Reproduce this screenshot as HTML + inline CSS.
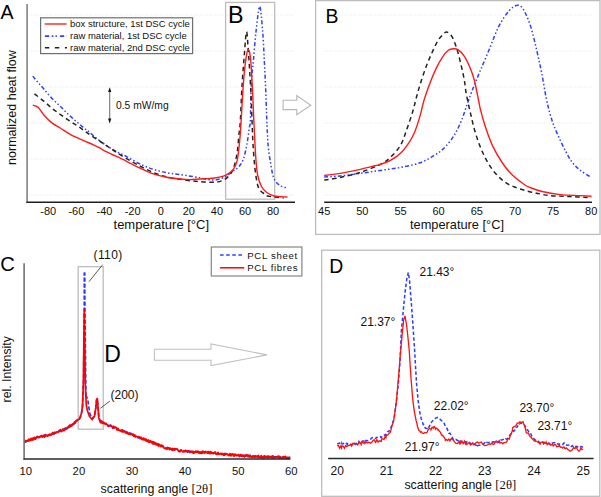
<!DOCTYPE html>
<html><head><meta charset="utf-8"><style>
html,body{margin:0;padding:0;background:#fff;width:601px;height:497px;overflow:hidden}
svg{display:block}
text{font-family:"Liberation Sans",sans-serif}
</style></head><body>
<svg width="601" height="497" viewBox="0 0 601 497"><line x1="30.0" y1="15.0" x2="295.0" y2="15.0" stroke="#ebebeb" stroke-width="1" stroke-dasharray="1.5,1,1,1.5"/>
<line x1="30.0" y1="51.0" x2="295.0" y2="51.0" stroke="#ebebeb" stroke-width="1" stroke-dasharray="1.5,1,1,1.5"/>
<line x1="30.0" y1="87.0" x2="295.0" y2="87.0" stroke="#ebebeb" stroke-width="1" stroke-dasharray="1.5,1,1,1.5"/>
<line x1="30.0" y1="123.0" x2="295.0" y2="123.0" stroke="#ebebeb" stroke-width="1" stroke-dasharray="1.5,1,1,1.5"/>
<line x1="30.0" y1="159.0" x2="295.0" y2="159.0" stroke="#ebebeb" stroke-width="1" stroke-dasharray="1.5,1,1,1.5"/>
<line x1="30.0" y1="195.0" x2="295.0" y2="195.0" stroke="#ebebeb" stroke-width="1" stroke-dasharray="1.5,1,1,1.5"/>
<rect x="225.6" y="2.4" width="49.1" height="196.8" fill="none" stroke="#bdbdbd" stroke-width="1.3"/>
<rect x="40.6" y="17.8" width="152" height="35.8" fill="#fff" stroke="#6e6e6e" stroke-width="1.2"/>
<line x1="44.7" y1="24" x2="66.6" y2="24" stroke="#ff2020" stroke-width="1.4"/>
<line x1="44.9" y1="36.1" x2="67" y2="36.1" stroke="#3040ff" stroke-width="1.6" stroke-dasharray="4.3,2.6,1.6,2.1,1.4,3"/>
<line x1="44.9" y1="47.8" x2="67" y2="47.8" stroke="#222" stroke-width="1.6" stroke-dasharray="4.4,5.6"/>
<text x="70" y="27" font-size="9.5" font-family="Liberation Sans, sans-serif" fill="#111">box structure, 1st DSC cycle</text>
<text x="70" y="38.9" font-size="9.5" font-family="Liberation Sans, sans-serif" fill="#111">raw material, 1st DSC cycle</text>
<text x="70" y="50.6" font-size="9.5" font-family="Liberation Sans, sans-serif" fill="#111">raw material, 2nd DSC cycle</text>
<path d="M32.8,76.1 C33.7,77.2 36.1,80.3 38.0,82.5 C39.9,84.7 41.8,86.6 44.1,89.3 C46.4,92.0 49.3,95.7 52.0,98.5 C54.7,101.3 57.5,103.6 60.2,106.2 C62.9,108.8 65.3,111.5 68.0,114.0 C70.7,116.5 73.6,119.2 76.3,121.5 C79.0,123.8 82.0,126.3 84.0,128.0 C86.0,129.7 86.9,130.2 88.6,131.6 C90.3,133.0 92.1,134.6 94.0,136.2 C95.9,137.8 98.1,139.5 100.1,141.0 C102.1,142.5 103.6,143.5 106.1,145.2 C108.6,146.9 111.8,149.1 115.2,151.0 C118.6,152.9 122.5,154.4 126.6,156.6 C130.7,158.8 135.6,161.9 140.0,164.0 C144.4,166.1 148.9,167.9 153.3,169.3 C157.7,170.7 162.2,171.7 166.6,172.6 C171.0,173.5 174.7,173.8 180.0,174.6 C185.3,175.4 194.0,176.7 198.2,177.4 C202.4,178.1 202.2,178.6 205.0,179.0 C207.8,179.4 211.6,180.3 214.8,180.0 C218.0,179.7 221.4,178.6 224.3,177.2 C227.2,175.8 230.0,173.2 232.4,171.5 C234.8,169.8 236.9,168.8 238.8,166.7 C240.7,164.5 242.2,162.3 243.6,158.6 C244.9,154.8 245.9,149.3 246.9,144.2 C247.9,139.1 248.7,132.0 249.3,128.0 C249.9,124.0 250.1,127.2 250.4,120.0 C250.7,112.8 250.8,94.4 251.3,84.5 C251.8,74.6 252.6,69.3 253.4,60.4 C254.2,51.4 255.1,39.8 256.1,30.8 C257.2,21.8 258.6,6.4 259.7,6.4 C260.8,6.4 261.8,21.8 262.6,30.8 C263.4,39.8 263.8,50.6 264.3,60.4 C264.8,70.2 265.3,80.3 265.7,89.4 C266.1,98.5 266.3,107.4 266.6,115.0 C266.9,122.6 267.2,129.5 267.5,135.0 C267.8,140.5 267.8,142.8 268.4,148.2 C269.0,153.6 270.4,162.3 271.3,167.4 C272.2,172.5 272.7,175.8 274.1,178.8 C275.5,181.8 277.7,184.0 279.9,185.5 C282.1,187.0 286.2,187.6 287.5,188.0" fill="none" stroke="#3040ff" stroke-width="1.5" stroke-dasharray="4,2.2,1.5,2.2,1.5,2.2"/>
<path d="M34.4,93.8 C36.0,95.1 41.2,99.0 44.1,101.4 C47.0,103.8 49.3,106.2 52.0,108.3 C54.7,110.4 57.5,112.4 60.2,114.3 C62.9,116.2 65.3,118.0 68.0,119.8 C70.7,121.6 73.6,123.4 76.3,125.2 C79.0,127.0 81.5,128.7 84.0,130.5 C86.5,132.3 88.9,134.2 91.6,136.0 C94.3,137.8 97.7,139.7 100.1,141.3 C102.5,142.9 103.6,143.8 106.1,145.5 C108.6,147.2 111.8,149.3 115.2,151.5 C118.6,153.7 122.5,156.2 126.6,158.6 C130.7,161.0 135.6,163.7 140.0,166.0 C144.4,168.3 148.9,170.8 153.3,172.6 C157.7,174.4 162.2,175.8 166.6,176.9 C171.0,178.0 174.7,178.5 180.0,179.3 C185.3,180.1 192.4,181.1 198.2,181.6 C204.0,182.1 210.7,182.4 214.8,182.2 C218.9,182.0 220.3,181.5 222.7,180.4 C225.1,179.3 227.3,177.9 229.2,175.6 C231.1,173.3 232.7,170.6 234.0,166.7 C235.3,162.8 236.4,157.3 237.2,152.2 C238.0,147.1 238.3,141.5 238.8,136.1 C239.3,130.7 239.9,128.6 240.4,120.0 C240.9,111.4 241.4,95.8 242.1,84.5 C242.8,73.2 243.8,61.3 244.5,52.5 C245.2,43.7 245.9,32.6 246.5,31.8 C247.1,31.0 247.4,38.7 248.1,47.5 C248.8,56.3 249.8,72.4 250.5,84.5 C251.2,96.6 251.6,110.0 252.0,120.0 C252.4,129.9 252.5,136.1 253.0,144.2 C253.5,152.2 254.2,161.6 254.9,168.3 C255.7,175.0 256.6,180.7 257.5,184.5 C258.4,188.3 259.4,189.3 260.6,190.9 C261.8,192.5 263.6,193.2 264.6,194.0 C265.6,194.8 264.9,195.2 266.5,195.7 C268.1,196.2 271.2,196.6 274.1,197.0 C277.0,197.4 282.1,197.8 283.7,198.0" fill="none" stroke="#222" stroke-width="1.5" stroke-dasharray="4.5,3.5"/>
<path d="M32.8,105.1 C33.3,105.3 34.9,105.6 36.0,106.2 C37.1,106.8 37.9,107.1 39.3,108.6 C40.6,110.1 42.0,112.9 44.1,115.3 C46.2,117.7 49.5,121.0 52.2,123.1 C54.9,125.2 57.0,126.0 60.2,128.0 C63.4,130.0 67.5,133.0 71.5,135.2 C75.5,137.3 80.7,139.2 84.4,140.9 C88.2,142.6 91.4,144.0 94.0,145.2 C96.6,146.4 98.1,147.1 100.1,148.2 C102.1,149.3 103.9,150.5 106.1,151.6 C108.3,152.7 109.9,153.4 113.3,155.0 C116.7,156.6 122.1,159.1 126.6,161.3 C131.0,163.5 135.6,165.9 140.0,168.0 C144.4,170.1 148.9,172.3 153.3,173.9 C157.7,175.5 162.2,176.5 166.6,177.3 C171.0,178.2 176.1,178.6 180.0,179.0 C183.9,179.4 185.7,179.6 189.9,179.6 C194.1,179.6 200.9,179.1 205.0,178.8 C209.1,178.5 211.8,178.4 214.7,178.0 C217.6,177.6 220.3,177.2 222.7,176.4 C225.1,175.6 227.3,174.4 229.2,173.1 C231.1,171.8 232.7,170.4 234.0,168.3 C235.3,166.2 236.4,163.5 237.2,160.3 C238.0,157.1 238.3,153.0 238.8,149.0 C239.3,145.0 239.7,140.9 240.1,136.1 C240.5,131.3 240.7,128.6 241.2,120.0 C241.7,111.4 242.6,94.4 243.3,84.5 C244.1,74.6 244.9,66.2 245.7,60.4 C246.5,54.6 247.3,49.9 248.1,49.5 C248.9,49.1 249.8,52.2 250.5,58.0 C251.2,63.8 251.6,74.2 252.2,84.5 C252.8,94.8 253.4,111.4 253.8,120.0 C254.2,128.6 254.3,129.7 254.6,136.0 C254.9,142.3 255.3,151.5 255.8,158.0 C256.3,164.5 256.7,170.2 257.6,175.0 C258.6,179.8 260.0,183.6 261.5,186.5 C263.0,189.4 264.4,190.6 266.5,192.2 C268.6,193.8 270.6,195.2 274.1,196.0 C277.6,196.8 285.3,196.8 287.5,197.0" fill="none" stroke="#ff1a1a" stroke-width="1.4"/>
<line x1="27.1" y1="4" x2="27.1" y2="202.9" stroke="#7a7a7a" stroke-width="1.5"/>
<line x1="26.4" y1="202.2" x2="295" y2="202.2" stroke="#1e1e1e" stroke-width="1.4"/>
<line x1="109.7" y1="90" x2="109.7" y2="120.5" stroke="#777" stroke-width="1.1"/>
<path d="M109.7,87.2 L108.1,92 L111.3,92 Z" fill="#111"/>
<path d="M109.7,123.4 L108.1,118.6 L111.3,118.6 Z" fill="#111"/>
<text x="116" y="109.2" font-size="10.3" font-family="Liberation Sans, sans-serif" fill="#111">0.5 mW/mg</text>
<text x="48.3" y="215.2" font-size="11" text-anchor="middle" font-family="Liberation Sans, sans-serif" fill="#111">-80</text>
<text x="76.4" y="215.2" font-size="11" text-anchor="middle" font-family="Liberation Sans, sans-serif" fill="#111">-60</text>
<text x="104.5" y="215.2" font-size="11" text-anchor="middle" font-family="Liberation Sans, sans-serif" fill="#111">-40</text>
<text x="132.6" y="215.2" font-size="11" text-anchor="middle" font-family="Liberation Sans, sans-serif" fill="#111">-20</text>
<text x="160.7" y="215.2" font-size="11" text-anchor="middle" font-family="Liberation Sans, sans-serif" fill="#111">0</text>
<text x="188.8" y="215.2" font-size="11" text-anchor="middle" font-family="Liberation Sans, sans-serif" fill="#111">20</text>
<text x="216.9" y="215.2" font-size="11" text-anchor="middle" font-family="Liberation Sans, sans-serif" fill="#111">40</text>
<text x="245.0" y="215.2" font-size="11" text-anchor="middle" font-family="Liberation Sans, sans-serif" fill="#111">60</text>
<text x="273.1" y="215.2" font-size="11" text-anchor="middle" font-family="Liberation Sans, sans-serif" fill="#111">80</text>
<text x="161.3" y="229" font-size="13" text-anchor="middle" font-family="Liberation Sans, sans-serif" fill="#111">temperature [°C]</text>
<text transform="translate(15.5,107.6) rotate(-90)" x="0" y="0" font-size="12.5" text-anchor="middle" font-family="Liberation Sans, sans-serif" fill="#111">normalized heat flow</text>
<text x="0.6" y="18.6" font-size="19.5" font-family="Liberation Sans, sans-serif" fill="#000">A</text>
<text x="228.1" y="22.6" font-size="23.3" font-family="Liberation Sans, sans-serif" fill="#000">B</text>
<path d="M283.1,100.3 L296.7,100.3 L296.7,95.5 L310.8,105.2 L296.7,114.8 L296.7,109.6 L283.1,109.6 Z" fill="#fff" stroke="#b8b8b8" stroke-width="1.1"/>
<rect x="315.6" y="0.6" width="284.4" height="233.8" fill="none" stroke="#bdbdbd" stroke-width="1.3"/>
<line x1="324.0" y1="15.0" x2="592.0" y2="15.0" stroke="#ebebeb" stroke-width="1" stroke-dasharray="1.5,1,1,1.5"/>
<line x1="324.0" y1="51.0" x2="592.0" y2="51.0" stroke="#ebebeb" stroke-width="1" stroke-dasharray="1.5,1,1,1.5"/>
<line x1="324.0" y1="87.0" x2="592.0" y2="87.0" stroke="#ebebeb" stroke-width="1" stroke-dasharray="1.5,1,1,1.5"/>
<line x1="324.0" y1="123.0" x2="592.0" y2="123.0" stroke="#ebebeb" stroke-width="1" stroke-dasharray="1.5,1,1,1.5"/>
<line x1="324.0" y1="159.0" x2="592.0" y2="159.0" stroke="#ebebeb" stroke-width="1" stroke-dasharray="1.5,1,1,1.5"/>
<line x1="324.0" y1="195.0" x2="592.0" y2="195.0" stroke="#ebebeb" stroke-width="1" stroke-dasharray="1.5,1,1,1.5"/>
<path d="M324.2,176.9 C326.8,176.8 334.0,176.6 340.0,176.0 C346.0,175.4 353.5,174.3 360.2,173.4 C366.9,172.5 373.7,171.4 380.4,170.4 C387.1,169.4 393.9,168.7 400.5,167.4 C407.1,166.1 414.3,164.8 420.0,162.8 C425.7,160.8 430.5,157.7 434.5,155.2 C438.5,152.7 441.0,151.2 444.2,148.0 C447.4,144.8 451.0,140.3 453.8,135.9 C456.6,131.5 458.9,126.6 461.1,121.4 C463.3,116.2 465.3,109.5 467.1,104.5 C468.9,99.5 469.8,96.7 471.9,91.2 C474.0,85.7 477.0,78.5 480.0,71.3 C483.0,64.1 486.6,55.8 489.7,48.3 C492.8,40.8 495.6,32.6 498.8,26.4 C502.0,20.2 505.9,14.4 509.0,10.9 C512.1,7.4 515.0,5.5 517.4,5.3 C519.8,5.1 521.3,6.1 523.5,9.7 C525.7,13.2 528.5,19.8 530.7,26.6 C532.9,33.4 535.0,43.1 536.8,50.7 C538.6,58.4 540.0,64.6 541.6,72.5 C543.2,80.4 544.8,91.1 546.2,98.0 C547.6,104.9 548.8,109.4 550.1,114.1 C551.4,118.8 552.4,121.9 554.1,126.2 C555.8,130.6 558.2,135.8 560.2,140.2 C562.2,144.5 564.2,148.6 566.2,152.3 C568.2,156.0 569.9,159.4 572.3,162.4 C574.6,165.4 577.1,167.9 580.3,170.4 C583.5,172.9 589.5,176.3 591.4,177.5" fill="none" stroke="#3040ff" stroke-width="1.5" stroke-dasharray="4,2.2,1.5,2.2,1.5,2.2"/>
<path d="M324.2,180.0 C326.8,179.6 334.0,178.8 340.0,177.5 C346.0,176.2 353.5,174.6 360.2,172.4 C366.9,170.2 375.4,166.9 380.4,164.4 C385.4,161.9 387.0,160.5 390.4,157.3 C393.8,154.1 397.8,149.8 400.5,145.3 C403.2,140.8 404.5,135.8 406.5,130.2 C408.5,124.6 411.0,117.3 412.6,112.0 C414.2,106.7 414.9,103.2 416.1,98.6 C417.4,94.0 418.4,89.9 420.1,84.5 C421.8,79.1 424.2,71.8 426.2,66.4 C428.2,61.0 430.2,56.7 432.2,52.3 C434.2,47.9 436.2,43.4 438.2,40.2 C440.2,37.0 442.8,34.5 444.3,33.2 C445.8,31.9 446.0,31.5 447.3,32.2 C448.6,32.9 450.6,34.2 452.3,37.2 C454.0,40.2 455.8,45.4 457.3,50.3 C458.8,55.2 460.2,61.4 461.4,66.4 C462.6,71.4 463.5,75.7 464.4,80.5 C465.2,85.3 465.4,89.4 466.5,95.0 C467.6,100.6 469.2,107.8 470.7,114.2 C472.2,120.6 473.6,127.1 475.6,133.5 C477.6,139.9 480.0,146.8 482.8,152.8 C485.6,158.8 488.9,164.9 492.5,169.7 C496.1,174.5 500.5,178.8 504.5,181.8 C508.5,184.8 512.6,186.2 516.6,187.8 C520.6,189.4 524.8,190.4 528.7,191.4 C532.6,192.4 536.4,193.2 540.0,193.9 C543.6,194.6 545.1,195.2 550.1,195.6 C555.1,196.0 563.3,196.3 570.2,196.6 C577.1,196.9 587.9,197.4 591.4,197.6" fill="none" stroke="#222" stroke-width="1.5" stroke-dasharray="4.5,3.5"/>
<path d="M324.2,175.5 C326.9,175.2 334.1,174.4 340.1,173.4 C346.1,172.4 354.8,170.6 360.2,169.4 C365.6,168.2 368.9,167.2 372.3,166.4 C375.7,165.6 377.4,165.4 380.4,164.4 C383.4,163.4 387.0,162.2 390.4,160.4 C393.8,158.6 397.5,156.2 400.5,153.3 C403.5,150.5 406.1,146.8 408.5,143.3 C410.9,139.8 412.7,136.7 414.6,132.2 C416.5,127.7 418.4,121.5 420.0,116.1 C421.6,110.7 422.4,105.6 424.1,100.0 C425.8,94.4 428.2,87.8 430.2,82.5 C432.2,77.2 434.2,72.6 436.2,68.4 C438.2,64.2 440.3,60.3 442.3,57.3 C444.3,54.3 446.5,51.7 448.3,50.3 C450.1,48.9 451.6,48.8 453.3,48.7 C455.0,48.6 456.5,48.6 458.4,49.9 C460.2,51.2 462.4,53.2 464.4,56.3 C466.4,59.4 468.7,64.4 470.4,68.4 C472.1,72.4 473.0,75.2 474.4,80.5 C475.8,85.8 477.5,95.2 478.5,100.0 C479.5,104.8 479.3,104.9 480.4,109.3 C481.5,113.7 483.2,120.2 485.2,126.2 C487.2,132.2 489.7,139.5 492.5,145.6 C495.3,151.7 498.9,157.7 502.1,162.5 C505.3,167.3 508.2,170.9 511.8,174.5 C515.4,178.1 520.9,182.0 523.9,184.2 C526.9,186.4 527.0,186.3 530.0,187.5 C533.0,188.7 537.1,190.3 542.1,191.5 C547.1,192.7 553.8,193.9 560.2,194.6 C566.6,195.3 575.1,195.3 580.3,195.6 C585.5,195.9 589.5,196.1 591.4,196.2" fill="none" stroke="#ff1a1a" stroke-width="1.4"/>
<line x1="324.2" y1="202.2" x2="592" y2="202.2" stroke="#1e1e1e" stroke-width="1.4"/>
<text x="324.2" y="215" font-size="11" text-anchor="middle" font-family="Liberation Sans, sans-serif" fill="#111">45</text>
<text x="362.3" y="215" font-size="11" text-anchor="middle" font-family="Liberation Sans, sans-serif" fill="#111">50</text>
<text x="400.5" y="215" font-size="11" text-anchor="middle" font-family="Liberation Sans, sans-serif" fill="#111">55</text>
<text x="438.6" y="215" font-size="11" text-anchor="middle" font-family="Liberation Sans, sans-serif" fill="#111">60</text>
<text x="476.8" y="215" font-size="11" text-anchor="middle" font-family="Liberation Sans, sans-serif" fill="#111">65</text>
<text x="515.0" y="215" font-size="11" text-anchor="middle" font-family="Liberation Sans, sans-serif" fill="#111">70</text>
<text x="553.1" y="215" font-size="11" text-anchor="middle" font-family="Liberation Sans, sans-serif" fill="#111">75</text>
<text x="591.2" y="215" font-size="11" text-anchor="middle" font-family="Liberation Sans, sans-serif" fill="#111">80</text>
<text x="457" y="229" font-size="12.8" text-anchor="middle" font-family="Liberation Sans, sans-serif" fill="#111">temperature [°C]</text>
<text x="325.5" y="22.9" font-size="19.4" font-family="Liberation Sans, sans-serif" fill="#000">B</text>
<rect x="78.2" y="266.7" width="25" height="162.5" fill="none" stroke="#bdbdbd" stroke-width="1.3"/>
<path d="M24.5,441.5 L25.3,441.4 L26.1,441.8 L26.9,440.8 L27.7,440.6 L28.5,440.5 L29.3,439.6 L30.1,439.9 L30.9,439.8 L31.7,439.8 L32.5,438.4 L33.3,438.5 L34.1,437.9 L34.9,438.8 L35.7,438.4 L36.5,437.2 L37.3,438.5 L38.1,438.3 L38.9,437.6 L39.7,437.3 L40.5,436.4 L41.3,435.9 L42.1,436.5 L42.9,435.6 L43.7,435.6 L44.5,435.5 L45.3,434.9 L46.1,435.4 L46.9,435.2 L47.7,435.6 L48.5,434.9 L49.3,434.9 L50.1,434.5 L50.9,434.5 L51.7,434.0 L52.5,433.4 L53.3,434.3 L54.1,434.0 L54.9,433.4 L55.7,432.9 L56.5,432.0 L57.3,431.5 L58.1,431.3 L58.9,430.7 L59.7,431.5 L60.5,430.6 L61.3,431.0 L62.1,430.0 L62.9,430.6 L63.7,430.1 L64.5,428.5 L65.3,428.4 L66.1,429.0 L66.9,427.8 L67.7,428.2 L68.5,426.8 L69.3,425.8 L70.1,426.2 L70.9,425.9 L71.7,424.6 L72.5,423.9 L73.3,423.7 L74.1,424.1 L74.9,423.0 L75.7,421.3 L76.5,420.8 L77.3,419.9 L78.1,419.2 L78.9,419.6 L79.7,418.0 L80.5,416.8 L81.3,414.5 L82.4,408.0 L83.6,380.0 L84.5,272.5" fill="none" stroke="#2a3cff" stroke-width="1.7" stroke-dasharray="4,2"/>
<path d="M85.9,395.0 L85.3,340.0 L84.5,272.5" fill="none" stroke="#2a3cff" stroke-width="1.7" stroke-dasharray="4,2" stroke-dashoffset="0.69"/>
<path d="M85.9,395.0 L86.8,397.5 L87.7,398.6 L88.6,406.0 L90.0,414.0 L92.2,419.0 L94.5,415.5 L95.8,408.0 L96.6,400.0 L97.3,399.0 L98.0,407.0 L98.8,417.0 L100.5,421.5 L101.3,422.1 L102.1,422.5 L102.9,422.1 L103.7,422.2 L104.5,423.2 L105.3,423.4 L106.1,424.6 L106.9,424.8 L107.7,425.1 L108.5,425.4 L109.3,425.9 L110.1,425.5 L110.9,426.3 L111.7,426.1 L112.5,427.6 L113.3,426.6 L114.1,428.1 L114.9,427.2 L115.7,428.5 L116.5,428.2 L117.3,428.7 L118.1,429.7 L118.9,428.7 L119.7,429.0 L120.5,430.7 L121.3,430.4 L122.1,430.0 L122.9,431.8 L123.7,432.0 L124.5,431.0 L125.3,431.8 L126.1,431.6 L126.9,432.2 L127.7,433.0 L128.5,432.6 L129.3,433.8 L130.1,433.0 L130.9,433.5 L131.7,434.9 L132.5,434.5 L133.3,434.9 L134.1,435.5 L134.9,435.6 L135.7,435.8 L136.5,435.5 L137.3,437.0 L138.1,437.7 L138.9,438.0 L139.7,437.8 L140.5,437.7 L141.3,438.0 L142.1,438.8 L142.9,439.1 L143.7,438.6 L144.5,439.1 L145.3,439.6 L146.1,440.2 L146.9,441.0 L147.7,440.8 L148.5,440.3 L149.3,441.9 L150.1,441.6 L150.9,442.1 L151.7,441.9 L152.5,442.6 L153.3,442.8 L154.1,443.8 L154.9,443.0 L155.7,444.0 L156.5,443.8 L157.3,444.9 L158.1,444.2 L158.9,444.9 L159.7,445.3 L160.5,446.1 L161.3,445.4 L162.1,446.4 L162.9,446.3 L163.7,446.8 L164.5,447.4 L165.3,448.5 L166.1,448.0 L166.9,449.1 L167.7,447.9 L168.5,449.3 L169.3,448.5 L170.1,448.4 L170.9,449.4 L171.7,449.8 L172.5,448.5 L173.3,449.1 L174.1,450.0 L174.9,449.4 L175.7,449.4 L176.5,449.2 L177.3,449.4 L178.1,450.4 L178.9,451.1 L179.7,451.3 L180.5,450.7 L181.3,450.0 L182.1,450.6 L182.9,451.5 L183.7,451.7 L184.5,451.5 L185.3,451.0 L186.1,451.6 L186.9,451.7 L187.7,451.9 L188.5,451.4 L189.3,452.5 L190.1,452.5 L190.9,451.3 L191.7,451.6 L192.5,452.5 L193.3,451.6 L194.1,452.7 L194.9,452.1 L195.7,452.4 L196.5,452.4 L197.3,451.7 L198.1,451.8 L198.9,451.8 L199.7,452.6 L200.5,452.6 L201.3,451.7 L202.1,453.0 L202.9,452.3 L203.7,452.0 L204.5,452.4 L205.3,453.3 L206.1,452.6 L206.9,452.8 L207.7,453.3 L208.5,453.4 L209.3,453.1 L210.1,452.6 L210.9,452.9 L211.7,453.5 L212.5,453.4 L213.3,453.2 L214.1,452.9 L214.9,453.0 L215.7,453.6 L216.5,453.4 L217.3,452.6 L218.1,453.8 L218.9,454.2 L219.7,454.1 L220.5,454.4 L221.3,454.5 L222.1,454.0 L222.9,454.4 L223.7,453.9 L224.5,453.5 L225.3,454.0 L226.1,454.0 L226.9,455.1 L227.7,454.7 L228.5,454.6 L229.3,454.8 L230.1,454.1 L230.9,454.8 L231.7,455.2 L232.5,454.8 L233.3,454.6 L234.1,454.9 L234.9,454.8 L235.7,455.4 L236.5,454.6 L237.3,454.6 L238.1,455.0 L238.9,455.7 L239.7,455.8 L240.5,455.7 L241.3,456.2 L242.1,455.3 L242.9,454.9 L243.7,455.6 L244.5,455.6 L245.3,455.3 L246.1,456.1 L246.9,455.6 L247.7,455.5 L248.5,455.7 L249.3,456.7 L250.1,455.3 L250.9,455.9 L251.7,455.8 L252.5,455.7 L253.3,456.2 L254.1,455.9 L254.9,457.0 L255.7,456.4 L256.5,456.8 L257.3,456.0 L258.1,456.5 L258.9,456.8 L259.7,457.2 L260.5,456.3 L261.3,456.7 L262.1,457.3 L262.9,457.3 L263.7,456.4 L264.5,456.9 L265.3,457.3 L266.1,456.7 L266.9,457.2 L267.7,457.2 L268.5,457.7 L269.3,457.1 L270.1,457.3 L270.9,456.8 L271.7,457.5 L272.5,456.8 L273.3,457.1 L274.1,456.9 L274.9,456.9 L275.7,456.6 L276.5,456.8 L277.3,457.3 L278.1,456.9 L278.9,456.6 L279.7,457.8 L280.5,457.0 L281.3,458.1 L282.1,457.6 L282.9,457.3 L283.7,458.1 L284.5,458.2 L285.3,457.3 L286.1,457.0 L286.9,457.8 L287.7,458.2 L288.5,457.8 L289.3,458.1" fill="none" stroke="#2a3cff" stroke-width="1.7" stroke-dasharray="4,2"/>
<path d="M24.5,440.7 L25.0,442.3 L25.5,441.9 L26.0,440.5 L26.5,441.0 L27.0,440.7 L27.5,441.0 L28.0,441.2 L28.5,439.4 L29.0,439.1 L29.5,440.8 L30.0,439.7 L30.5,440.3 L31.0,438.4 L31.5,439.3 L32.0,439.8 L32.5,438.4 L33.0,440.0 L33.5,439.7 L34.0,437.5 L34.5,437.3 L35.0,438.4 L35.5,439.2 L36.0,437.8 L36.5,437.2 L37.0,437.6 L37.5,436.5 L38.0,436.9 L38.5,437.3 L39.0,437.3 L39.5,436.5 L40.0,436.4 L40.5,436.2 L41.0,436.7 L41.5,436.2 L42.0,435.4 L42.5,437.2 L43.0,436.4 L43.5,436.5 L44.0,435.3 L44.5,437.1 L45.0,436.6 L45.5,434.7 L46.0,435.1 L46.5,435.9 L47.0,435.8 L47.5,436.2 L48.0,434.8 L48.5,435.7 L49.0,435.2 L49.5,434.2 L50.0,434.7 L50.5,435.3 L51.0,435.1 L51.5,434.1 L52.0,434.2 L52.5,432.6 L53.0,433.0 L53.5,434.1 L54.0,433.0 L54.5,432.2 L55.0,432.9 L55.5,433.1 L56.0,432.9 L56.5,432.0 L57.0,431.9 L57.5,431.9 L58.0,432.4 L58.5,431.6 L59.0,431.1 L59.5,431.1 L60.0,429.8 L60.5,429.7 L61.0,431.1 L61.5,431.5 L62.0,430.4 L62.5,429.7 L63.0,429.0 L63.5,429.6 L64.0,430.6 L64.5,429.9 L65.0,429.1 L65.5,429.6 L66.0,427.8 L66.5,428.2 L67.0,428.9 L67.5,427.7 L68.0,427.1 L68.5,426.4 L69.0,426.7 L69.5,427.4 L70.0,424.8 L70.5,426.4 L71.0,426.2 L71.5,426.1 L72.0,425.4 L72.5,425.3 L73.0,424.3 L73.5,424.0 L74.0,423.2 L74.5,421.9 L75.0,423.4 L75.5,422.3 L76.0,421.0 L76.5,421.3 L77.0,420.8 L77.5,420.0 L78.0,419.6 L78.5,419.6 L79.0,419.4 L79.5,418.9 L80.0,417.9 L80.5,415.6 L81.0,414.7 L81.5,413.2 L82.6,405.0 L83.4,380.0 L84.0,330.0 L84.3,309.5 L84.7,340.0 L85.3,385.0 L86.3,405.0 L87.5,411.0 L89.5,416.5 L92.2,419.5 L94.5,416.0 L95.8,408.0 L96.6,399.5 L97.3,398.5 L98.0,407.0 L98.8,418.0 L100.5,422.6 L101.0,422.8 L101.5,420.9 L102.0,421.2 L102.5,423.3 L103.0,423.3 L103.5,423.3 L104.0,422.7 L104.5,423.6 L105.0,423.9 L105.5,424.1 L106.0,423.3 L106.5,424.2 L107.0,424.3 L107.5,425.4 L108.0,426.2 L108.5,426.4 L109.0,425.6 L109.5,425.6 L110.0,425.4 L110.5,425.1 L111.0,425.3 L111.5,426.5 L112.0,426.3 L112.5,426.7 L113.0,428.1 L113.5,427.4 L114.0,427.7 L114.5,427.1 L115.0,426.8 L115.5,427.7 L116.0,427.4 L116.5,428.5 L117.0,429.9 L117.5,429.3 L118.0,428.3 L118.5,430.2 L119.0,430.2 L119.5,430.2 L120.0,430.8 L120.5,430.7 L121.0,430.9 L121.5,430.1 L122.0,431.8 L122.5,431.9 L123.0,430.2 L123.5,431.8 L124.0,431.9 L124.5,431.5 L125.0,431.9 L125.5,432.0 L126.0,433.2 L126.5,432.4 L127.0,433.4 L127.5,432.4 L128.0,433.9 L128.5,434.1 L129.0,433.2 L129.5,433.7 L130.0,434.7 L130.5,434.5 L131.0,434.1 L131.5,433.6 L132.0,434.1 L132.5,435.2 L133.0,434.1 L133.5,436.1 L134.0,434.7 L134.5,436.5 L135.0,435.2 L135.5,437.0 L136.0,436.6 L136.5,436.3 L137.0,436.5 L137.5,437.0 L138.0,437.1 L138.5,436.6 L139.0,436.6 L139.5,437.5 L140.0,438.7 L140.5,438.2 L141.0,437.1 L141.5,439.1 L142.0,439.0 L142.5,439.7 L143.0,438.2 L143.5,439.7 L144.0,438.2 L144.5,439.9 L145.0,439.1 L145.5,439.2 L146.0,441.0 L146.5,439.4 L147.0,440.6 L147.5,441.5 L148.0,440.3 L148.5,440.4 L149.0,442.2 L149.5,441.3 L150.0,442.2 L150.5,440.8 L151.0,441.8 L151.5,441.5 L152.0,442.9 L152.5,441.7 L153.0,444.0 L153.5,441.9 L154.0,443.8 L154.5,442.3 L155.0,443.1 L155.5,444.6 L156.0,443.2 L156.5,443.5 L157.0,444.9 L157.5,444.4 L158.0,443.8 L158.5,446.2 L159.0,444.4 L159.5,444.3 L160.0,445.3 L160.5,446.1 L161.0,446.6 L161.5,445.3 L162.0,446.1 L162.5,445.5 L163.0,446.7 L163.5,447.7 L164.0,447.8 L164.5,448.4 L165.0,448.2 L165.5,448.7 L166.0,448.5 L166.5,448.2 L167.0,447.7 L167.5,448.8 L168.0,448.1 L168.5,447.7 L169.0,448.6 L169.5,449.7 L170.0,448.0 L170.5,449.1 L171.0,448.8 L171.5,449.2 L172.0,448.3 L172.5,450.4 L173.0,448.8 L173.5,449.7 L174.0,449.3 L174.5,448.5 L175.0,449.9 L175.5,448.9 L176.0,448.8 L176.5,448.8 L177.0,449.2 L177.5,449.2 L178.0,450.5 L178.5,450.3 L179.0,451.6 L179.5,451.5 L180.0,451.7 L180.5,450.0 L181.0,450.6 L181.5,450.2 L182.0,451.1 L182.5,451.3 L183.0,451.8 L183.5,451.7 L184.0,450.7 L184.5,451.1 L185.0,451.5 L185.5,450.3 L186.0,450.5 L186.5,451.4 L187.0,450.8 L187.5,452.3 L188.0,451.1 L188.5,450.8 L189.0,451.0 L189.5,451.2 L190.0,451.2 L190.5,451.9 L191.0,451.8 L191.5,451.4 L192.0,452.3 L192.5,451.3 L193.0,452.9 L193.5,453.1 L194.0,452.6 L194.5,451.9 L195.0,452.1 L195.5,452.3 L196.0,451.0 L196.5,451.9 L197.0,452.2 L197.5,451.4 L198.0,451.2 L198.5,452.9 L199.0,451.9 L199.5,452.3 L200.0,453.3 L200.5,452.6 L201.0,451.8 L201.5,453.5 L202.0,452.0 L202.5,451.2 L203.0,452.8 L203.5,451.5 L204.0,452.0 L204.5,453.3 L205.0,452.9 L205.5,451.3 L206.0,452.4 L206.5,452.3 L207.0,452.5 L207.5,451.9 L208.0,452.8 L208.5,451.6 L209.0,452.1 L209.5,452.4 L210.0,453.7 L210.5,451.7 L211.0,453.4 L211.5,452.1 L212.0,453.1 L212.5,452.7 L213.0,452.9 L213.5,453.7 L214.0,452.8 L214.5,452.2 L215.0,452.3 L215.5,452.2 L216.0,454.1 L216.5,453.7 L217.0,454.5 L217.5,453.9 L218.0,452.3 L218.5,453.9 L219.0,454.3 L219.5,454.2 L220.0,453.7 L220.5,453.4 L221.0,453.7 L221.5,454.6 L222.0,453.3 L222.5,454.0 L223.0,453.9 L223.5,455.1 L224.0,454.8 L224.5,455.2 L225.0,455.0 L225.5,453.7 L226.0,453.6 L226.5,454.3 L227.0,453.8 L227.5,454.3 L228.0,454.9 L228.5,455.5 L229.0,454.8 L229.5,455.4 L230.0,453.7 L230.5,454.4 L231.0,456.0 L231.5,454.0 L232.0,454.7 L232.5,453.9 L233.0,454.0 L233.5,456.0 L234.0,456.2 L234.5,455.4 L235.0,454.2 L235.5,454.7 L236.0,454.5 L236.5,455.6 L237.0,455.7 L237.5,455.1 L238.0,455.4 L238.5,454.4 L239.0,455.5 L239.5,456.5 L240.0,456.0 L240.5,454.5 L241.0,455.5 L241.5,456.0 L242.0,455.0 L242.5,456.5 L243.0,455.5 L243.5,456.1 L244.0,455.5 L244.5,456.9 L245.0,456.4 L245.5,456.0 L246.0,455.0 L246.5,455.7 L247.0,454.7 L247.5,456.1 L248.0,456.9 L248.5,455.2 L249.0,456.0 L249.5,456.0 L250.0,455.8 L250.5,456.6 L251.0,457.2 L251.5,456.7 L252.0,456.1 L252.5,457.3 L253.0,455.8 L253.5,456.9 L254.0,456.7 L254.5,457.0 L255.0,457.2 L255.5,455.8 L256.0,456.7 L256.5,456.2 L257.0,456.9 L257.5,457.7 L258.0,456.9 L258.5,455.4 L259.0,456.6 L259.5,457.2 L260.0,457.6 L260.5,457.1 L261.0,457.5 L261.5,455.6 L262.0,457.8 L262.5,457.3 L263.0,457.1 L263.5,457.8 L264.0,457.8 L264.5,455.9 L265.0,457.6 L265.5,457.5 L266.0,456.2 L266.5,457.5 L267.0,457.1 L267.5,456.2 L268.0,457.7 L268.5,456.1 L269.0,457.3 L269.5,456.9 L270.0,456.4 L270.5,457.2 L271.0,457.0 L271.5,456.4 L272.0,458.2 L272.5,456.1 L273.0,455.9 L273.5,457.1 L274.0,458.0 L274.5,457.6 L275.0,457.8 L275.5,457.2 L276.0,457.7 L276.5,456.9 L277.0,456.7 L277.5,457.3 L278.0,456.2 L278.5,456.3 L279.0,457.9 L279.5,456.6 L280.0,458.0 L280.5,458.1 L281.0,457.2 L281.5,457.8 L282.0,458.1 L282.5,458.3 L283.0,456.6 L283.5,456.7 L284.0,457.2 L284.5,457.4 L285.0,457.0 L285.5,456.4 L286.0,457.7 L286.5,458.7 L287.0,457.3 L287.5,457.7 L288.0,457.4 L288.5,457.5 L289.0,458.6 L289.5,457.2 L290.0,458.1" fill="none" stroke="#ff0000" stroke-width="1.7" stroke-linejoin="round"/>
<line x1="24.1" y1="263.3" x2="24.1" y2="459.6" stroke="#6a6a6a" stroke-width="1.5"/>
<line x1="23.4" y1="459.1" x2="290.5" y2="459.1" stroke="#2a2a2a" stroke-width="1.5"/>
<text x="25.8" y="475.2" font-size="11.3" text-anchor="middle" font-family="Liberation Sans, sans-serif" fill="#111">10</text>
<text x="78.9" y="475.2" font-size="11.3" text-anchor="middle" font-family="Liberation Sans, sans-serif" fill="#111">20</text>
<text x="132.0" y="475.2" font-size="11.3" text-anchor="middle" font-family="Liberation Sans, sans-serif" fill="#111">30</text>
<text x="185.1" y="475.2" font-size="11.3" text-anchor="middle" font-family="Liberation Sans, sans-serif" fill="#111">40</text>
<text x="238.2" y="475.2" font-size="11.3" text-anchor="middle" font-family="Liberation Sans, sans-serif" fill="#111">50</text>
<text x="291.3" y="475.2" font-size="11.3" text-anchor="middle" font-family="Liberation Sans, sans-serif" fill="#111">60</text>
<text x="100.6" y="492.5" font-size="12.4" font-family="Liberation Sans, sans-serif" fill="#111">scattering angle <tspan font-family="Liberation Serif, serif" font-size="12.7">[2θ]</tspan></text>
<text transform="translate(11,369.3) rotate(-90)" x="0" y="0" font-size="12.3" text-anchor="middle" font-family="Liberation Sans, sans-serif" fill="#111">rel. Intensity</text>
<text x="0.3" y="270.6" font-size="20.2" font-family="Liberation Sans, sans-serif" fill="#000">C</text>
<text x="104.2" y="361.6" font-size="23" font-family="Liberation Sans, sans-serif" fill="#000">D</text>
<text x="93.5" y="259.3" font-size="12" letter-spacing="0.4" font-family="Liberation Sans, sans-serif" fill="#111">(110)</text>
<text x="110.5" y="399.4" font-size="12" font-family="Liberation Sans, sans-serif" fill="#111">(200)</text>
<line x1="89" y1="281.6" x2="102.7" y2="264.7" stroke="#444" stroke-width="0.9"/>
<line x1="100.3" y1="408.3" x2="109.9" y2="401.1" stroke="#444" stroke-width="0.9"/>
<rect x="211.3" y="247" width="90.6" height="29" fill="#fff" stroke="#858585" stroke-width="1.2"/>
<line x1="220.1" y1="255" x2="244.3" y2="255" stroke="#2a3cff" stroke-width="1.6" stroke-dasharray="3.5,2.6"/>
<line x1="220.1" y1="267.8" x2="244.3" y2="267.8" stroke="#ff1010" stroke-width="1.6"/>
<text x="247.2" y="258.7" font-size="9.6" letter-spacing="0.7" font-family="Liberation Sans, sans-serif" fill="#111">PCL sheet</text>
<text x="247.2" y="271.3" font-size="9.6" letter-spacing="0.65" font-family="Liberation Sans, sans-serif" fill="#111">PCL fibres</text>
<path d="M154.4,349.3 L211,349.3 L211,344 L267,354.9 L211,365.6 L211,360.3 L154.4,360.3 Z" fill="#fff" stroke="#c0c0c0" stroke-width="1.1"/>
<rect x="321.7" y="250.2" width="278.1" height="246.1" fill="none" stroke="#bdbdbd" stroke-width="1.3"/>
<path d="M337.2,443.9 L338.4,443.5 L339.6,443.1 L340.8,444.2 L341.6,442.8 L342.0,443.9 L343.2,443.7 L344.4,443.2 L345.6,444.3 L346.8,443.4 L347.5,444.4 L348.0,443.6 L349.2,443.5 L350.4,444.1 L351.6,444.9 L352.8,443.2 L353.3,443.4 L354.0,444.2 L355.2,444.6 L356.4,443.5 L357.6,442.9 L358.8,443.9 L359.1,441.8 L360.0,443.4 L361.2,441.9 L362.4,441.3 L363.6,441.0 L364.8,441.1 L365.0,442.2 L366.0,440.4 L367.2,440.7 L368.4,440.3 L369.6,439.2 L370.8,439.0 L372.0,437.7 L373.2,437.5 L374.4,437.6 L375.6,438.4 L376.6,437.6 L376.8,437.3 L378.0,437.7 L379.2,437.2 L380.4,436.7 L381.2,437.7 L381.6,437.2 L382.8,435.4 L384.0,435.4 L385.2,434.5 L385.9,434.8 L386.4,433.9 L387.6,431.5 L388.8,431.7 L390.0,428.4 L390.6,428.3 L391.2,427.2 L392.4,423.1 L393.6,420.1 L394.0,418.9 L394.8,413.1 L396.0,404.2 L396.3,402.0 L397.2,393.9 L398.2,385.0 L398.4,382.4 L399.6,366.6 L400.1,360.0 L400.8,343.7 L401.3,332.0 L402.0,324.4 L403.2,311.4 L403.3,310.3 L404.4,299.2 L405.3,290.2 L405.6,288.0 L406.8,279.0 L408.0,273.8 L408.3,272.5 L409.2,278.1 L409.5,280.0 L410.3,290.2 L410.4,291.5 L411.6,306.5 L411.9,310.3 L412.8,323.2 L413.3,330.4 L414.0,341.0 L414.6,350.0 L415.2,360.7 L415.5,366.0 L416.4,381.3 L416.5,383.0 L417.6,394.7 L418.0,399.0 L418.8,405.4 L419.5,411.0 L420.0,413.2 L421.2,418.6 L421.3,419.0 L422.4,422.0 L423.3,424.8 L423.6,424.7 L424.8,427.2 L425.5,428.2 L426.0,428.3 L427.2,428.4 L427.3,429.2 L428.4,428.0 L429.5,426.0 L429.6,426.0 L430.8,423.0 L431.3,422.6 L432.0,421.6 L433.2,420.2 L434.0,419.1 L434.4,418.8 L435.6,418.2 L436.8,417.6 L437.3,417.4 L438.0,417.9 L439.2,418.8 L440.0,419.2 L440.4,419.7 L441.6,420.7 L442.8,421.8 L444.0,422.9 L445.2,426.1 L446.4,427.4 L447.6,429.9 L448.0,431.1 L448.8,433.2 L450.0,433.2 L451.2,435.7 L452.4,437.6 L453.3,439.6 L453.6,439.6 L454.8,440.3 L456.0,439.5 L457.2,440.3 L458.4,440.8 L459.6,442.4 L460.0,442.8 L460.8,441.1 L462.0,441.2 L463.2,441.4 L464.4,441.4 L465.6,442.0 L466.6,442.3 L466.8,441.7 L468.0,441.5 L469.2,442.8 L470.4,443.1 L471.6,444.0 L472.0,445.0 L472.8,444.5 L474.0,444.4 L475.2,444.8 L476.4,445.2 L477.3,444.0 L477.6,445.8 L478.8,445.3 L480.0,445.3 L481.2,445.0 L482.4,443.9 L483.6,443.7 L484.8,442.8 L486.0,443.8 L486.6,442.4 L487.2,442.4 L488.4,442.6 L489.6,442.4 L490.8,442.7 L492.0,442.0 L493.2,441.8 L494.4,442.0 L495.6,441.8 L496.0,442.4 L496.8,441.3 L498.0,442.7 L499.2,441.6 L500.4,440.1 L501.6,439.9 L502.8,439.6 L504.0,439.1 L505.2,438.0 L506.4,439.1 L507.6,438.8 L508.8,437.1 L509.2,436.9 L510.0,435.0 L511.2,433.5 L512.4,432.5 L513.6,430.8 L514.6,430.7 L514.8,429.0 L516.0,427.2 L517.2,427.1 L518.4,424.8 L518.7,424.0 L519.6,424.0 L520.8,422.8 L521.2,423.1 L522.0,424.0 L523.2,424.5 L523.7,424.6 L524.4,425.1 L525.6,427.0 L526.2,427.5 L526.8,429.4 L528.0,430.5 L529.2,432.7 L530.0,432.7 L530.4,433.0 L531.6,435.7 L532.8,437.5 L534.0,438.7 L535.0,439.8 L535.2,440.0 L536.4,440.7 L537.6,440.4 L538.8,441.9 L540.0,442.4 L541.2,441.7 L542.4,441.8 L543.6,442.5 L544.8,442.5 L546.0,443.6 L547.2,444.2 L548.4,443.2 L549.6,444.4 L550.0,444.5 L550.8,444.4 L552.0,443.1 L553.2,442.7 L554.4,442.7 L555.6,442.7 L556.8,442.7 L557.5,443.6 L558.0,444.2 L559.2,444.2 L560.4,443.5 L561.6,444.0 L562.8,444.5 L564.0,443.0 L565.0,444.4 L565.2,445.0 L566.4,445.1 L567.6,445.3 L568.8,445.1 L570.0,444.7 L571.2,446.4 L572.4,445.6 L573.6,446.8 L574.8,447.4 L576.0,446.3 L577.2,446.5 L578.4,447.9 L579.6,447.6 L580.8,446.6 L582.0,446.7 L583.0,447.6" fill="none" stroke="#2a3cff" stroke-width="1.5" stroke-dasharray="3.5,2.2"/>
<path d="M337.2,445.9 L338.4,445.4 L339.6,448.2 L340.8,445.9 L341.6,448.0 L342.0,446.0 L343.2,446.2 L344.4,448.3 L345.6,445.5 L346.8,446.6 L347.5,445.9 L348.0,445.7 L349.2,445.6 L350.4,444.4 L351.6,446.1 L352.8,443.5 L353.3,443.9 L354.0,443.0 L355.2,443.5 L356.4,443.6 L357.6,444.9 L358.8,442.9 L359.1,442.0 L360.0,442.3 L361.2,444.6 L362.4,441.5 L363.6,443.2 L364.8,442.3 L364.9,443.2 L366.0,442.0 L367.2,443.0 L368.4,442.3 L369.6,442.6 L370.8,443.2 L372.0,442.0 L373.2,440.3 L374.4,439.9 L375.6,442.4 L376.6,440.8 L376.8,439.8 L378.0,442.1 L379.2,440.8 L380.4,441.2 L381.2,441.6 L381.6,439.4 L382.8,438.7 L384.0,439.5 L385.2,436.2 L385.9,437.7 L386.4,434.9 L387.6,435.1 L388.8,433.6 L390.0,432.7 L390.6,431.6 L391.2,428.8 L392.4,424.6 L393.5,421.6 L393.6,421.3 L394.8,413.0 L396.0,404.7 L396.1,404.0 L397.2,392.0 L398.3,380.0 L398.4,378.8 L399.6,363.7 L400.3,355.0 L400.8,349.5 L402.0,336.4 L402.4,332.0 L403.2,324.6 L403.7,320.0 L404.4,317.6 L404.9,315.9 L405.6,319.5 L406.3,323.0 L406.8,327.2 L407.5,333.0 L408.0,338.0 L409.2,350.0 L410.4,368.7 L411.0,378.0 L411.6,385.5 L412.6,398.0 L412.8,399.6 L414.0,409.4 L414.2,411.0 L415.2,416.0 L416.2,421.0 L416.4,421.3 L417.6,427.1 L418.2,428.5 L418.8,430.3 L420.0,431.1 L420.5,432.2 L421.2,431.7 L422.4,433.2 L423.3,433.3 L423.6,433.5 L424.8,432.5 L426.0,433.1 L427.2,432.2 L428.3,429.0 L428.4,429.6 L429.6,428.3 L430.8,429.1 L431.0,429.8 L432.0,427.3 L433.2,428.2 L433.3,427.0 L434.4,426.6 L435.6,429.1 L436.0,428.1 L436.8,428.2 L438.0,430.0 L438.4,429.6 L439.2,431.0 L440.0,431.8 L440.4,432.4 L441.6,435.0 L442.5,435.6 L442.8,435.4 L444.0,437.1 L445.2,439.0 L445.3,440.4 L446.4,439.5 L447.6,440.5 L448.8,439.1 L449.3,439.5 L450.0,440.9 L451.2,438.7 L452.4,439.3 L453.6,440.5 L454.8,442.1 L456.0,443.4 L457.2,443.6 L458.4,442.0 L459.6,443.6 L460.0,440.5 L460.8,443.2 L462.0,441.4 L463.2,443.6 L464.4,441.1 L465.6,444.2 L466.6,443.6 L466.8,444.4 L468.0,443.4 L469.2,442.3 L470.4,445.1 L471.6,443.7 L472.8,442.8 L473.3,444.6 L474.0,444.1 L475.2,443.7 L476.4,442.4 L477.6,442.0 L478.8,443.2 L480.0,442.5 L481.2,442.0 L482.4,443.6 L483.6,445.0 L484.8,445.5 L486.0,445.3 L486.6,445.3 L487.2,445.0 L488.4,444.3 L489.6,443.8 L490.8,444.3 L492.0,442.8 L493.2,444.5 L493.3,444.4 L494.4,443.7 L495.6,441.5 L496.8,442.2 L498.0,442.1 L499.2,440.6 L500.0,443.2 L500.4,442.7 L501.6,442.4 L502.8,443.7 L503.9,442.6 L504.0,442.6 L505.2,442.5 L506.4,442.2 L507.0,441.4 L507.6,438.5 L508.8,438.7 L509.2,439.1 L510.0,436.4 L511.2,433.8 L512.4,430.6 L512.6,427.8 L513.6,426.9 L514.8,426.2 L516.0,425.5 L517.2,423.1 L518.4,423.2 L519.5,422.4 L519.6,422.0 L520.8,422.1 L521.2,422.4 L522.0,422.2 L523.1,421.7 L523.2,422.6 L524.4,425.6 L525.6,429.2 L526.2,432.7 L526.8,433.1 L528.0,432.9 L528.7,433.7 L529.2,435.2 L530.4,436.9 L531.2,437.0 L531.6,438.3 L532.8,439.1 L534.0,440.8 L535.0,441.3 L535.2,440.6 L536.4,441.3 L537.6,442.0 L538.8,442.7 L540.0,444.1 L541.2,442.4 L542.4,441.8 L543.6,444.0 L544.8,442.6 L546.0,443.2 L546.2,442.2 L547.2,444.7 L548.4,443.1 L549.6,443.3 L550.8,445.2 L552.0,444.4 L552.5,443.8 L553.2,445.9 L554.4,444.6 L555.6,444.6 L556.8,446.8 L558.0,446.4 L558.7,446.4 L559.2,445.0 L560.4,447.2 L561.6,446.9 L562.8,448.0 L564.0,446.9 L565.0,448.6 L565.2,448.7 L566.4,447.9 L567.6,449.2 L568.8,450.1 L570.0,451.3 L571.2,450.7 L572.4,449.8 L573.6,447.4 L574.8,448.5 L575.0,448.6 L576.0,447.2 L577.2,449.0 L578.4,450.8 L578.7,451.1 L579.6,451.0 L580.8,448.1 L582.0,449.6 L583.0,449.0" fill="none" stroke="#ff1010" stroke-width="1.3"/>
<line x1="328.2" y1="458.5" x2="593.6" y2="458.5" stroke="#2a2a2a" stroke-width="1.4"/>
<text x="337.2" y="475.1" font-size="12" text-anchor="middle" font-family="Liberation Sans, sans-serif" fill="#111">20</text>
<text x="386.4" y="475.1" font-size="12" text-anchor="middle" font-family="Liberation Sans, sans-serif" fill="#111">21</text>
<text x="435.6" y="475.1" font-size="12" text-anchor="middle" font-family="Liberation Sans, sans-serif" fill="#111">22</text>
<text x="484.8" y="475.1" font-size="12" text-anchor="middle" font-family="Liberation Sans, sans-serif" fill="#111">23</text>
<text x="534.0" y="475.1" font-size="12" text-anchor="middle" font-family="Liberation Sans, sans-serif" fill="#111">24</text>
<text x="583.2" y="475.1" font-size="12" text-anchor="middle" font-family="Liberation Sans, sans-serif" fill="#111">25</text>
<text x="404.4" y="489.2" font-size="12.4" font-family="Liberation Sans, sans-serif" fill="#111">scattering angle <tspan font-family="Liberation Serif, serif" font-size="12.7">[2θ]</tspan></text>
<text x="329.3" y="272.6" font-size="19.4" font-family="Liberation Sans, sans-serif" fill="#000">D</text>
<text x="419.5" y="275.7" font-size="12" font-family="Liberation Sans, sans-serif" fill="#111">21.43°</text>
<text x="360.5" y="326.0" font-size="12" font-family="Liberation Sans, sans-serif" fill="#111">21.37°</text>
<text x="433.8" y="410.0" font-size="12" font-family="Liberation Sans, sans-serif" fill="#111">22.02°</text>
<text x="404.7" y="451.0" font-size="12" font-family="Liberation Sans, sans-serif" fill="#111">21.97°</text>
<text x="519.4" y="412.0" font-size="12" font-family="Liberation Sans, sans-serif" fill="#111">23.70°</text>
<text x="537.4" y="430.3" font-size="12" font-family="Liberation Sans, sans-serif" fill="#111">23.71°</text></svg>
</body></html>
